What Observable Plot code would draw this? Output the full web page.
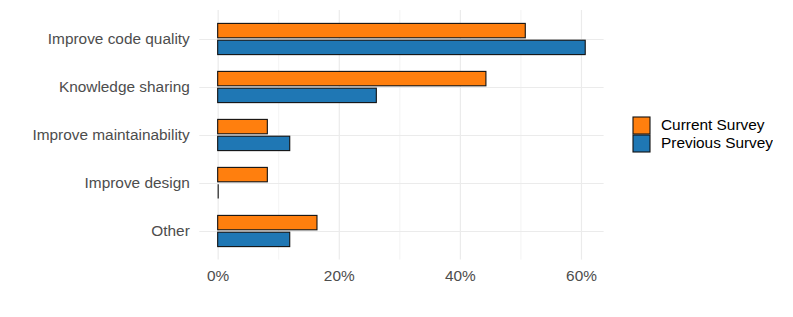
<!DOCTYPE html>
<html><head><meta charset="utf-8">
<script src="https://cdn.jsdelivr.net/npm/d3@7"></script>
<script src="https://cdn.jsdelivr.net/npm/@observablehq/plot@0.6"></script>
<style>
body{margin:0;background:#fff}
#wrap{position:relative;width:793px;height:317px}
#legend{position:absolute;left:633px;top:116px}
#legend div{margin:0 !important}
.lg-swatch{padding-bottom:0 !important;margin:0 !important;line-height:18px;height:18px;display:flex;align-items:center}
.lg-swatch svg{margin-right:11px !important;overflow:visible}
.lg-swatch svg rect{stroke:#111;stroke-width:1.1px}
</style></head><body>
<div id="wrap"><div id="chart"></div><div id="legend"></div></div>
<script>
const categories = ["Improve code quality","Knowledge sharing","Improve maintainability","Improve design","Other"];
const surveys = ["Current Survey","Previous Survey"];
const currentSurvey = [50.8, 44.3, 8.2, 8.2, 16.4];
const previousSurvey = [60.7, 26.2, 11.9, 0, 11.9];
const colors = ["#FF7F0E","#1F77B4"];
const majorTicks = [0,20,40,60];
const minorTicks = [10,30,50];

const rows = categories.flatMap((c,i)=>[
  {category:c, survey:surveys[0], value:currentSurvey[i]},
  {category:c, survey:surveys[1], value:previousSurvey[i]}
]);
const maxV = d3.max(rows, d=>d.value);
const pad = 0.05*maxV;
const insets = {"Current Survey":[8.4,25.2], "Previous Survey":[25.2,8.4]};
const font = "'Liberation Sans', Arial, Helvetica, sans-serif";

const barMarks = surveys.flatMap(s=>[
  Plot.barX(rows.filter(d=>d.survey===s && d.value>0), {x1:0, x2:"value", y:"category", fill:"survey", stroke:"#111", strokeWidth:1.1, insetTop:insets[s][0], insetBottom:insets[s][1]}),
  Plot.tickX(rows.filter(d=>d.survey===s && d.value===0), {x:"value", y:"category", stroke:"#111", strokeWidth:1.1, insetTop:insets[s][0], insetBottom:insets[s][1]})
]);

const chart = Plot.plot({
  width:793, height:317,
  marginLeft:199.3, marginRight:189.4, marginTop:10, marginBottom:57.4,
  style:{fontFamily:font, fontSize:"15.4px", color:"#4D4D4D", background:"#fff"},
  x:{domain:[-pad, maxV+pad], label:null},
  y:{domain:categories, paddingInner:0, paddingOuter:0.1, label:null},
  color:{domain:surveys, range:colors},
  marks:[
    Plot.gridX(minorTicks, {stroke:"#EBEBEB", strokeOpacity:1, strokeWidth:0.6}),
    Plot.gridX(majorTicks, {stroke:"#EBEBEB", strokeOpacity:1, strokeWidth:1.2}),
    Plot.gridY({stroke:"#EBEBEB", strokeOpacity:1, strokeWidth:1.2}),
    ...barMarks,
    Plot.axisX(majorTicks, {tickSize:0, tickPadding:10, tickFormat:d=>d+"%", label:null}),
    Plot.axisY({tickSize:0, tickPadding:10, label:null})
  ]
});
document.getElementById("chart").appendChild(chart);

const leg = Plot.legend({
  color:{domain:surveys, range:colors},
  legend:"swatches", columns:1, swatchSize:17, className:"lg",
  style:{fontFamily:font, fontSize:"15.4px", color:"#000"}
});
document.getElementById("legend").appendChild(leg);
</script>
</body></html>
